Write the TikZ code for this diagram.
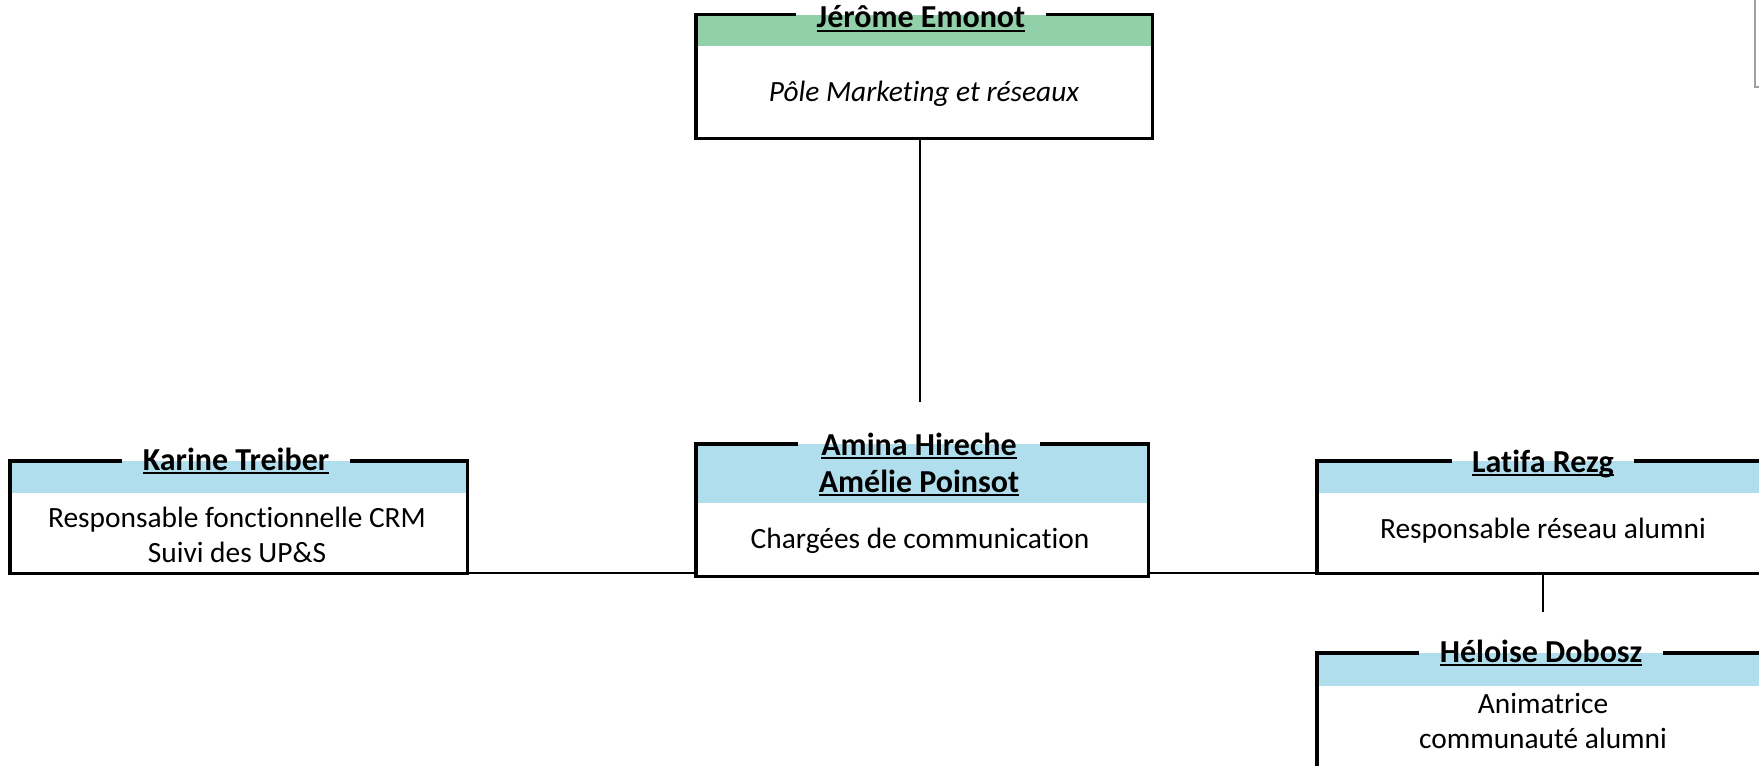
\documentclass[tikz,border=0pt]{standalone}
\usepackage{fontspec}
\setmainfont{Carlito}[Ligatures=NoCommon]
\definecolor{bandgreen}{RGB}{146,208,170}
\definecolor{bandblue}{RGB}{176,222,236}
\definecolor{edgegrey}{RGB}{160,160,160}
\newcommand\ulname[1]{\sbox0{#1}\leavevmode\rlap{\rule[-2pt]{\wd0}{1pt}}\usebox0}
\begin{document}
\begin{tikzpicture}[x=0.5pt,y=-0.5pt,
  frame/.style={draw=none,inner sep=0pt,rectangle},
  border/.style={line width=1.9pt,line join=miter},
  link/.style={line width=1pt},
  title/.style={font=\fontsize{16}{18.5}\selectfont\bfseries,inner xsep=10pt,inner ysep=0pt,anchor=base},
  body/.style={font=\fontsize{14.7}{17.5}\selectfont,inner sep=0pt,anchor=base}]
\useasboundingbox (0,0) rectangle (1759,765);
\clip (0,0) rectangle (1759,765);

% Jerome
\node[frame,minimum width=228pt,minimum height=61.5pt] (jerome) at (924,76.5) {};
\fill[bandgreen] (jerome.north west) rectangle ([yshift=-15.5pt]jerome.north east);
\node[title] (jeromeT) at (921,28) {\ulname{Jérôme Emonot}};
\node[body] (jeromeB) at (924,102) {\itshape Pôle Marketing et réseaux};
\draw[border] (jeromeT.west |- jerome.north) -| (jerome.south west) -| (jerome.north east) -- (jeromeT.east |- jerome.north);

% Karine
\node[frame,minimum width=228.5pt,minimum height=56pt] (karine) at (238.5,517) {};
\fill[bandblue] (karine.north west) rectangle ([yshift=-16pt]karine.north east);
\node[title] (karineT) at (236,470) {\ulname{Karine Treiber}};
\node[body] (karineB) at (237,527) {\begin{tabular}[t]{@{}c@{}}Responsable fonctionnelle CRM\\Suivi des UP\&S\end{tabular}};
\draw[border] (karineT.west |- karine.north) -| (karine.south west) -| (karine.north east) -- (karineT.east |- karine.north);

% Amina
\node[frame,minimum width=226pt,minimum height=66pt] (amina) at (922,510) {};
\fill[bandblue] (amina.north west) rectangle ([yshift=-29.5pt]amina.north east);
\node[title] (aminaT) at (919,455) {\begin{tabular}[t]{@{}c@{}}\ulname{Amina Hireche}\\\ulname{Amélie Poinsot}\end{tabular}};
\node[body] (aminaB) at (920,548) {Chargées de communication};
\draw[border] (aminaT.west |- amina.north) -| (amina.south west) -| (amina.north east) -- (aminaT.east |- amina.north);

% Latifa
\node[frame,minimum width=226pt,minimum height=56pt] (latifa) at (1543,517) {};
\fill[bandblue] (latifa.north west) rectangle ([yshift=-16pt]latifa.north east);
\node[title] (latifaT) at (1543,472) {\ulname{Latifa Rezg}};
\node[body] (latifaB) at (1543,538) {Responsable réseau alumni};
\draw[border] (latifaT.west |- latifa.north) -| (latifa.south west) -| (latifa.north east) -- (latifaT.east |- latifa.north);

% Heloise
\node[frame,minimum width=226pt,minimum height=57.5pt] (heloise) at (1543,710.5) {};
\fill[bandblue] (heloise.north west) rectangle ([yshift=-16.5pt]heloise.north east);
\node[title] (heloiseT) at (1541,662) {\ulname{Héloise Dobosz}};
\node[body] (heloiseB) at (1543,713) {\begin{tabular}[t]{@{}c@{}}Animatrice\\communauté alumni\end{tabular}};
\draw[border] (heloiseT.west |- heloise.north) -| (heloise.south west) -| (heloise.north east) -- (heloiseT.east |- heloise.north);

% connectors
\coordinate (jend) at (920,402);
\coordinate (lend) at (1543,612);
\draw[link] (jerome.south -| jend) -- (jend);
\draw[link] (karine.south east) -- (karine.south east -| amina.west);
\draw[link] (latifa.south west -| amina.east) -- (latifa.south west);
\draw[link] (latifa.south) -- (lend);

% grey edge at top right
\draw[edgegrey,line width=1pt] (1755,0) -- (1755,87) -- (1759,87);
\end{tikzpicture}
\end{document}
